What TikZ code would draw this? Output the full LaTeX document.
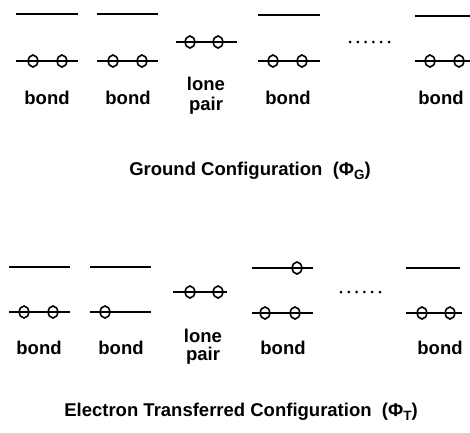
\documentclass[tikz,border=0pt]{standalone}
\usepackage{fontspec}
\setmainfont{Liberation Sans}
\usetikzlibrary{shapes.geometric}
\tikzset{
  level/.style={line width=2pt},
  electron/.style={ellipse, draw, line width=1.6pt, inner sep=0pt, minimum width=9.5pt, minimum height=12pt},
  lbl/.style={font=\fontsize{18.5}{18.5}\selectfont\bfseries, inner sep=0pt},
  ttl/.style={font=\fontsize{18.5}{18.5}\selectfont\bfseries, inner sep=0pt},
  dot/.style={circle, fill=black, inner sep=0pt, minimum size=3pt}
}
\newcommand{\subsc}[1]{{\fontsize{13.5}{13.5}\selectfont\raisebox{-3.5pt}{#1}}}
\begin{document}
\begin{tikzpicture}[x=1pt,y=-1pt]
\useasboundingbox (0,0) rectangle (470,432);
% ---------------- Ground configuration ----------------
% column 1: bond
\draw[level] (16,14) -- (78,14);
\draw[level] (16,61) -- (78,61);
\node[electron] (g1a) at (33,61) {};
\node[electron] (g1b) at (62,61) {};
\node[lbl] (g1t) at (47,98) {bond};
% column 2: bond
\draw[level] (97,14) -- (158,14);
\draw[level] (97,61) -- (158,61);
\node[electron] (g2a) at (113,61) {};
\node[electron] (g2b) at (142,61) {};
\node[lbl] (g2t) at (128,98) {bond};
% column 3: lone pair
\draw[level] (176,42) -- (237,42);
\node[electron] (g3a) at (190,42) {};
\node[electron] (g3b) at (218,42) {};
\node[lbl] (g3t) at (206,84) {lone};
\node[lbl] (g3u) at (206,106) {pair};
% column 4: bond
\draw[level] (258,15) -- (320,15);
\draw[level] (258,61) -- (320,61);
\node[electron] (g4a) at (273,61) {};
\node[electron] (g4b) at (302,61) {};
\node[lbl] (g4t) at (288,98) {bond};
% dots
\foreach \i in {0,...,5} \node[dot] (gd\i) at (350+\i*7.8,42) {};
% column 5: bond
\draw[level] (415,16) -- (470,16);
\draw[level] (415,61) -- (470,61);
\node[electron] (g5a) at (430,61) {};
\node[electron] (g5b) at (459,61) {};
\node[lbl] (g5t) at (441,98) {bond};
% title
\node[ttl] (gtitle) at (250,171) {Ground Configuration \ (Φ\subsc{G})};
% ---------------- Electron transferred configuration ----------------
% column 1
\draw[level] (9,267) -- (70,267);
\draw[level] (9,312) -- (70,312);
\node[electron] (t1a) at (24,312) {};
\node[electron] (t1b) at (53,312) {};
\node[lbl] (t1t) at (39,348) {bond};
% column 2
\draw[level] (90,267) -- (151,267);
\draw[level] (90,312) -- (151,312);
\node[electron] (t2a) at (105,312) {};
\node[lbl] (t2t) at (121,348) {bond};
% column 3
\draw[level] (173,292) -- (227,292);
\node[electron] (t3a) at (190,292) {};
\node[electron] (t3b) at (218,292) {};
\node[lbl] (t3t) at (203,336) {lone};
\node[lbl] (t3u) at (203,356) {pair};
% column 4
\draw[level] (252,268) -- (313,268);
\node[electron] (t4c) at (297,268) {};
\draw[level] (252,313) -- (313,313);
\node[electron] (t4a) at (265,313) {};
\node[electron] (t4b) at (295,313) {};
\node[lbl] (t4t) at (283,348) {bond};
% dots
\foreach \i in {0,...,5} \node[dot] (td\i) at (341+\i*7.8,292) {};
% column 5
\draw[level] (406,268) -- (460,268);
\draw[level] (406,313) -- (462,313);
\node[electron] (t5a) at (422,313) {};
\node[electron] (t5b) at (450,313) {};
\node[lbl] (t5t) at (440,348) {bond};
% title
\node[ttl] (ttitle) at (241,412) {Electron Transferred Configuration \ (Φ\subsc{T})};
\end{tikzpicture}
\end{document}
